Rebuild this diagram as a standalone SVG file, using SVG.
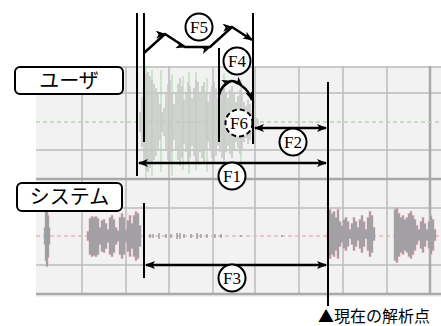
<svg xmlns="http://www.w3.org/2000/svg" width="441" height="326" viewBox="0 0 441 326">
<defs>
<style>
.grid{stroke:#bcbcbc;stroke-width:1.5;fill:none}
.gridb{stroke:#a9a9a9;stroke-width:2.5;fill:none}
.bar{stroke:#000;stroke-width:2;fill:none}
.arr{stroke:#000;stroke-width:2.5;fill:none}
.lbl{fill:#fff;stroke:#000;stroke-width:2}
.lt{font-family:"Noto Sans CJK JP","Noto Sans",sans-serif;font-size:20px;text-anchor:middle;fill:#000}
.cf{fill:#fff;stroke:#000;stroke-width:2}
.ct{font-family:"Liberation Serif",serif;font-size:17px;text-anchor:middle;fill:#000}
</style>
<marker id="ah" viewBox="0 0 10 8" refX="9" refY="4" markerWidth="10" markerHeight="8" markerUnits="userSpaceOnUse" orient="auto-start-reverse">
<path d="M0,0 L10,4 L0,8 L2.5,4 Z" fill="#000"/>
</marker>
</defs>
<g id="panel">
<rect x="36" y="66" width="405" height="231" fill="#f2f2f2"/>
<path class="grid" d="M36,67H441M36,93H441M36,150H441M36,208H441M36,265H441M82,66V295M126,66V295M169,66V295M213,66V295M255,66V295M299,66V295M343,66V295M387,66V295"/>
<path class="gridb" d="M36,179H441M36,294H441M430,66V295"/>
<path d="M36,122H441" stroke="#b3d7b3" stroke-width="1.5" stroke-dasharray="4,3"/>
<path d="M36,236H441" stroke="#e6b5bd" stroke-width="1.5" stroke-dasharray="4,3"/>
</g>
<g id="user-wave">
<path stroke="#a9d4a9" stroke-width="1" d="M146,66V178M161,70V172M172,74V176M183,76V170M196,72V170M207,78V172M224,74V174M241,80V168M152,70V176M189,72V174"/>
<path stroke="#c6c9c6" stroke-width="1.6" d="M140,112V132M142,97V147M144,80V164M146,74V170M148,72V172M150,76V168M152,80V164M154,84V160M156,88V156M158,94V150M160,104V140M162,112V132M164,108V136M166,94V150M168,84V160M170,80V164M172,92V152M174,104V140M176,94V150M178,84V160M180,78V166M182,86V158M184,100V144M186,92V152M188,82V162M190,86V158M192,98V146M194,88V156M196,80V164M198,82V162M200,92V152M202,86V158M204,82V162M206,94V150M208,102V142M210,94V150M212,86V158M214,82V162M216,88V156M218,98V146M220,92V152M222,86V158M224,84V160M226,92V152M228,98V146M230,90V154M232,86V158M234,94V150M236,102V142M238,96V148M240,90V154M242,94V150M244,102V142M246,106V138M248,100V144M250,104V140M252,110V134M254,114V130M256,117V127M258,119V125"/>
</g>
<g id="system-wave">
<path stroke="#e7a9b1" stroke-width="2.6" d="M45,227V245M46,211V261M47,207V267M48,215V258M49,227V245M88,231V241M90,218V255M92,216V257M94,217V256M96,216V257M98,218V255M100,227V245M102,220V252M104,219V253M106,223V249M108,229V243M110,217V255M112,215V257M114,219V253M116,227V245M118,230V242M120,217V255M122,213V259M124,217V255M126,229V243M128,220V252M130,215V257M132,223V249M134,215V257M136,211V261M138,213V259M140,225V247M328,231V241M330,209V259M332,213V255M334,211V257M336,217V251M338,209V259M340,221V247M342,225V243M344,219V249M346,217V251M348,221V247M350,229V239M352,223V245M354,217V251M356,221V247M358,227V241M360,219V249M362,215V253M364,221V247M366,229V239M368,217V251M370,211V257M372,215V253M374,227V241M395,209V261M397,207V263M399,213V257M401,217V253M403,215V255M405,219V251M407,217V253M409,213V257M411,211V259M413,215V255M415,219V251M417,225V245M419,229V241M421,221V249M423,217V253M425,223V247M427,229V241M429,221V249M431,215V255M433,219V251M435,229V241"/>
<path stroke="#979fa4" stroke-width="1.7" d="M45,228V244M46,212V260M47,208V266M48,216V257M49,228V244M88,232V240M90,219V254M92,217V256M94,218V255M96,217V256M98,219V254M100,228V244M102,221V251M104,220V252M106,224V248M108,230V242M110,218V254M112,216V256M114,220V252M116,228V244M118,231V241M120,218V254M122,214V258M124,218V254M126,230V242M128,221V251M130,216V256M132,224V248M134,216V256M136,212V260M138,214V258M140,226V246M328,232V240M330,210V258M332,214V254M334,212V256M336,218V250M338,210V258M340,222V246M342,226V242M344,220V248M346,218V250M348,222V246M350,230V238M352,224V244M354,218V250M356,222V246M358,228V240M360,220V248M362,216V252M364,222V246M366,230V238M368,218V250M370,212V256M372,216V252M374,228V240M395,210V260M397,208V262M399,214V256M401,218V252M403,216V254M405,220V250M407,218V252M409,214V256M411,212V258M413,216V254M415,220V250M417,226V244M419,230V240M421,222V248M423,218V252M425,224V246M427,230V240M429,222V248M431,216V254M433,220V250M435,230V240"/>
<path stroke="#9aa0a4" stroke-width="1.5" d="M150,234V238M153,234V238M159,233V239M166,234V238M171,234V238M177,233V239M180,233V239M184,234V238M191,234V238M197,233V239M201,234V238M207,234V238M215,234V238M221,234V238M241,235V237M282,235V237"/>
</g>
<g id="connectors">
<path class="bar" d="M137,13V176M144,13V142M253,13V144M219,48V142M328,82V306M144,203V278"/>
<path class="arr" marker-start="url(#ah)" marker-end="url(#ah)" d="M139,163H326"/>
<path class="arr" marker-start="url(#ah)" marker-end="url(#ah)" d="M146,265H326"/>
<path class="arr" marker-start="url(#ah)" marker-end="url(#ah)" d="M255,128H326"/>
<polyline class="arr" marker-mid="url(#ah)" marker-end="url(#ah)" points="144,53 165,34 185,47 210,47 232,27 252,40"/>
<path class="arr" marker-end="url(#ah)" d="M219,95Q222,84 231,81"/>
<path class="arr" marker-end="url(#ah)" d="M231,81Q237,81 242,86"/>
<path class="arr" marker-end="url(#ah)" d="M242,86Q249,91 252,100"/>
</g>
<g id="user-label"><rect class="lbl" x="15" y="67" width="108" height="27" rx="5"/><text class="lt" x="69" y="88">ユーザ</text></g>
<g id="system-label"><rect class="lbl" x="17" y="183" width="105" height="28" rx="5"/><text class="lt" x="69.5" y="204">システム</text></g>
<g id="F5"><circle class="cf" cx="199" cy="27" r="13.5"/><text class="ct" x="199" y="33">F5</text></g>
<g id="F4"><circle class="cf" cx="237" cy="61" r="13.5"/><text class="ct" x="237" y="67">F4</text></g>
<g id="F6"><circle class="cf" cx="239" cy="123" r="13.5" stroke-dasharray="5,3"/><text class="ct" x="239" y="129">F6</text></g>
<g id="F2"><circle class="cf" cx="293" cy="142" r="13.5"/><text class="ct" x="293" y="148">F2</text></g>
<g id="F1"><circle class="cf" cx="232" cy="176" r="13.5"/><text class="ct" x="232" y="182">F1</text></g>
<g id="F3"><circle class="cf" cx="232" cy="278" r="13.5"/><text class="ct" x="232" y="284">F3</text></g>
<g id="analysis-point"><text x="318" y="322" font-family="Noto Sans CJK JP,Noto Sans,sans-serif" font-size="16" fill="#000">▲現在の解析点</text></g>
</svg>
